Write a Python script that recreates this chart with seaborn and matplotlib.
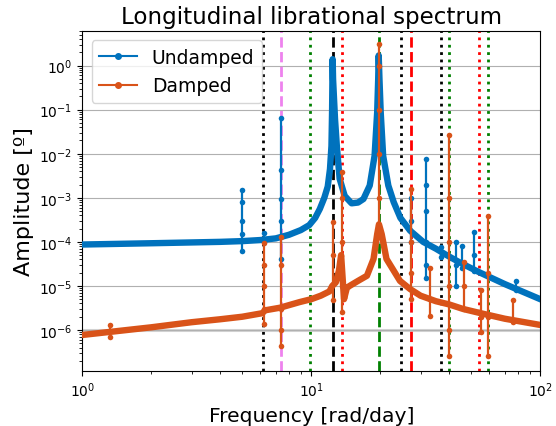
import numpy as np
import pandas as pd
import matplotlib
matplotlib.use("Agg")
import matplotlib.pyplot as plt
from matplotlib.lines import Line2D
import seaborn as sns

# ---------------- data ----------------
und_base_freq = [1.0, 2.0, 3.0, 4.0, 5.0, 6.0, 7.0, 8.0, 9.0, 9.8, 10.4, 10.9, 11.4, 11.8,
                 12.07, 12.25, 12.33, 12.37, 12.40, 12.45, 12.55, 12.7, 12.93, 13.3, 14.0,
                 15.0, 16.0, 16.9, 18.0, 18.9, 19.4, 19.6, 19.7, 19.85, 20.1, 20.6, 21.7,
                 22.9, 24.5, 27.0, 30.8, 35.0, 39.0, 45.0, 54.6, 70.0, 100.0]
und_base_amp = [8.7e-5, 9.3e-5, 9.7e-5, 1.0e-4, 1.04e-4, 1.1e-4, 1.2e-4, 1.45e-4, 1.85e-4, 2.4e-4,
                3.5e-4, 5.6e-4, 1.0e-3, 1.8e-3, 4.5e-3, 1.5e-2, 0.1, 0.5, 1.4, 0.5, 0.21, 0.06,
                1.5e-2, 2.7e-3, 1.1e-3, 7.5e-4, 7.8e-4, 9.4e-4, 1.9e-3, 9e-3, 8.8e-2, 0.5, 1.7,
                0.5, 8.8e-2, 9e-3, 1.9e-3, 8e-4, 3.5e-4, 1.8e-4, 1.0e-4, 7e-5, 5e-5, 3.3e-5,
                2.0e-5, 1.1e-5, 5e-6]

dmp_base_freq = [1.0, 2.0, 3.0, 4.0, 5.0, 6.1, 6.3, 7.3, 8.9, 10.0, 11.0, 12.0, 12.35,
                 12.8, 13.2, 13.5, 13.9, 14.3, 14.7, 16.0, 17.5, 18.7, 19.4, 19.75, 20.3,
                 21.3, 24.4, 27.0, 30.0, 35.0, 40.0, 46.0, 55.0, 70.0, 100.0]
dmp_base_amp = [7.7e-7, 1.15e-6, 1.5e-6, 1.75e-6, 2.0e-6, 2.4e-6, 2.8e-6, 3.2e-6, 4.3e-6,
                5.0e-6, 6.0e-6, 7.5e-6, 1.0e-5, 1.2e-5, 2.2e-5, 5e-5, 5e-6, 9e-6, 1.0e-5,
                1.3e-5, 1.7e-5, 4.1e-5, 1.5e-4, 2.5e-4, 1.5e-4, 4.1e-5, 1.3e-5, 8.5e-6, 6e-6,
                4.5e-6, 3.8e-6, 3e-6, 2.4e-6, 1.8e-6, 1.3e-6]

# spikes: frequency and the amplitudes of the dots along the spike
und_spike_freq = [4.97, 6.2, 7.37, 27.3, 31.8, 36.9, 42.9, 45.5, 51.5, 78.0]
und_spike_amp = [[1.5e-3, 8e-4, 3e-4, 1.5e-4, 6.3e-5],
                 [1.6e-4, 1.0e-4],
                 [6.4e-2, 4.3e-3, 9.4e-4, 3e-4, 4e-5],
                 [1e-3, 3e-4, 1e-4],
                 [7.6e-3, 2e-3, 5e-4, 1e-4, 3e-5, 1.5e-5],
                 [7.6e-5, 4.5e-5],
                 [1e-4, 3e-5, 1e-5],
                 [8e-5, 2.5e-5],
                 [1.7e-4, 5e-5, 2.2e-5],
                 [1.3e-5, 8e-6]]

dmp_spike_freq = [1.32, 6.2, 7.37, 12.4, 13.62, 19.75, 27.3, 33.0, 39.8, 46.6, 55.0, 59.0, 76.0]
dmp_spike_amp = [[1.3e-6, 6.9e-7],
                 [9.4e-5, 3e-5, 1e-5, 3e-6, 1.4e-6],
                 [1.3e-4, 3e-5, 3e-6, 1e-6, 4.4e-7],
                 [2.8e-4, 5e-5, 4.7e-6],
                 [3.8e-3, 1e-3, 1e-4, 1e-5, 2.6e-6],
                 [3.1, 1.0, 0.1, 1e-2, 1e-3, 1.5e-4],
                 [1.6e-3, 1e-4, 2e-5, 5e-6],
                 [2.6e-5, 5e-6, 2.1e-6],
                 [2.7e-2, 1e-3, 1e-4, 1e-5, 1e-6, 2.6e-7],
                 [3.5e-5, 1e-5, 3e-6],
                 [7.9e-6, 2e-6, 9e-7],
                 [3.8e-4, 2e-5, 2e-6, 2.6e-7],
                 [4.7e-6, 1.5e-6]]

vline_freq = [6.15, 7.37, 9.83, 12.39, 13.62, 19.76, 24.7, 27.3, 36.9, 39.8, 54.2, 58.9]
vline_color = ['black', 'violet', 'green', 'black', 'red', 'green', 'black', 'red',
               'black', 'green', 'red', 'green']
vline_style = [':', '--', ':', '--', ':', '--', ':', '--', ':', ':', ':', ':']

series_names = ['Undamped', 'Damped']
series_colors = ['#0072BD', '#D95319']

title = 'Longitudinal librational spectrum'
xlabel = 'Frequency [rad/day]'
ylabel = 'Amplitude [º]'

# ---------------- build tables ----------------
def spikes_df(freqs, amps):
    rows = []
    for i, (f, a) in enumerate(zip(freqs, amps)):
        for v in a:
            rows.append((i, f, v))
    return pd.DataFrame(rows, columns=['spike', 'freq', 'amp'])

und_base = pd.DataFrame({'freq': und_base_freq, 'amp': und_base_amp})
dmp_base = pd.DataFrame({'freq': dmp_base_freq, 'amp': dmp_base_amp})
und_spk = spikes_df(und_spike_freq, und_spike_amp)
dmp_spk = spikes_df(dmp_spike_freq, dmp_spike_amp)

# ---------------- plot ----------------
fig = plt.figure(figsize=(5.56, 4.27), dpi=100)
ax = fig.add_axes([0.148, 0.1295, 0.8237, 0.7955])
ax.set_xscale('log')
ax.set_yscale('log')

for f, c, s in zip(vline_freq, vline_color, vline_style):
    ax.axvline(f, color=c, ls=s, lw=2, zorder=1)

for base, spk, col in [(und_base, und_spk, series_colors[0]),
                       (dmp_base, dmp_spk, series_colors[1])]:
    sns.lineplot(data=base, x='freq', y='amp', color=col, lw=4.6, estimator=None,
                 sort=False, ax=ax, legend=False, zorder=3)
    sns.lineplot(data=spk, x='freq', y='amp', units='spike', estimator=None,
                 sort=False, color=col, lw=1.6, marker='o', markersize=4,
                 markeredgewidth=0, ax=ax, legend=False, zorder=3)

ax.set_xlim(1, 100)
ax.set_ylim(1.19e-7, 6.1)
ax.grid(axis='y', which='major', color='#b0b0b0', lw=0.8)
ax.axhline(1e-6, color='#d3d3d3', lw=2.2, zorder=0.5)
ax.set_axisbelow(True)

ax.set_title(title, fontsize=16.6)
ax.set_xlabel(xlabel, fontsize=14.6, labelpad=5)
ax.set_ylabel(ylabel, fontsize=16)

handles = [Line2D([], [], color=c, lw=1.5, marker='.', markersize=8) for c in series_colors]
ax.legend(handles, series_names, loc='upper left', fontsize=13.5)

fig.savefig('out.png', dpi=100)
